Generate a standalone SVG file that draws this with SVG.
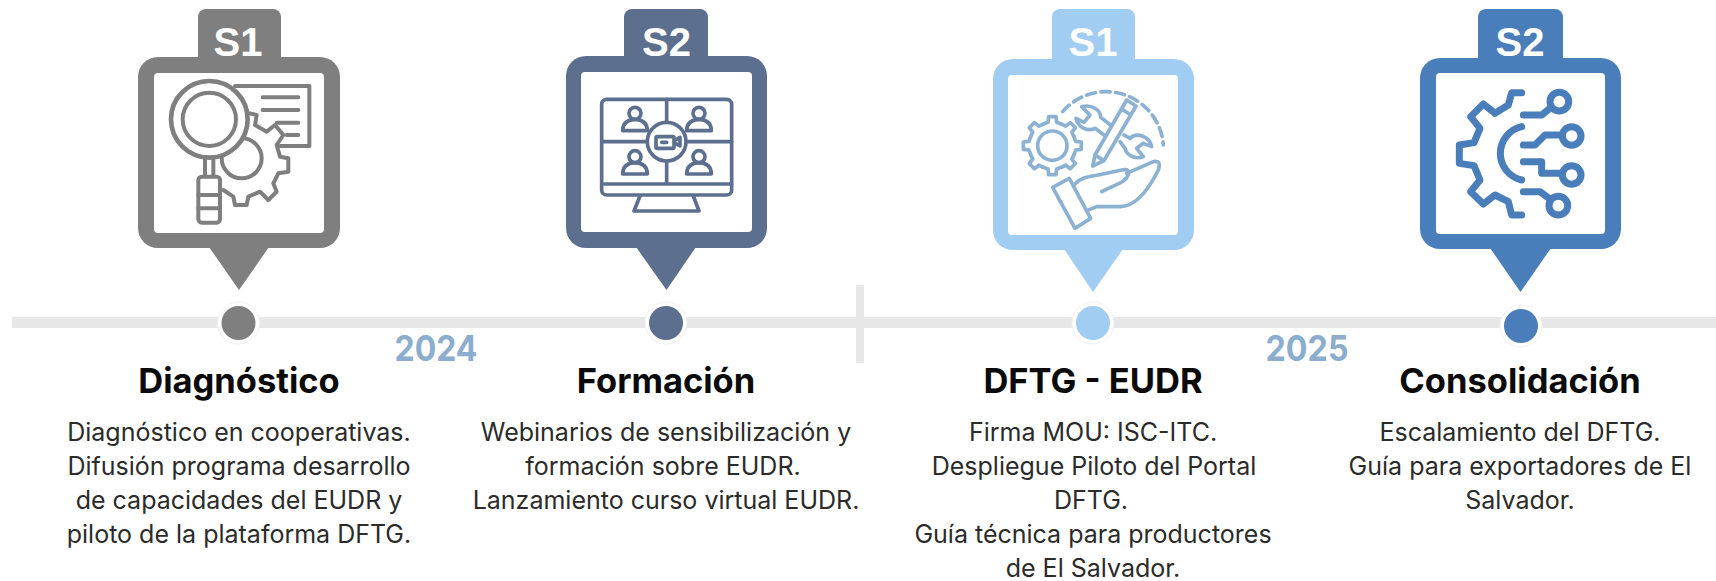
<svg xmlns="http://www.w3.org/2000/svg" xmlns:xlink="http://www.w3.org/1999/xlink" width="1716" height="581" viewBox="0 0 1716 581">
<style>
.tab{font:700 40px "Liberation Sans",Arial,sans-serif;fill:#fff;text-anchor:middle}
.title{font:700 34.500px Inter,"Liberation Sans",sans-serif;fill:#0a0a0a;text-anchor:middle}
.body{font:400 25px Inter,"Liberation Sans",sans-serif;fill:#2b2b2b;text-anchor:middle}
.year{font:700 36px Inter,"Liberation Sans",sans-serif;fill:#8cadcd;text-anchor:middle}
.ic{fill:none;stroke-linecap:round;stroke-linejoin:round}
.inner{fill:#fff}
.halo{fill:#fff;stroke:#f1f1f1;stroke-width:1}
</style>
<defs>
<path id="tooth" d="M-27-65-13-70-11-87H11L13-70 27-65"/>
</defs>
<rect width="1716" height="581" fill="#fff"/>
<g id="connectors" fill="#e7e7e7">
<rect x="12" y="317" width="1704" height="11"/>
<rect x="856" y="285" width="8" height="78"/>
</g>
<g id="node-diagnostico">
<g fill="#7f7f7f">
<rect x="198" y="9" width="83" height="60" rx="8"/>
<rect x="138" y="57" width="202" height="191" rx="20"/>
<path d="M209 247H269L239 290Z"/>
<circle cx="238.500" cy="323" r="21" class="halo"/>
<circle cx="238.500" cy="323" r="17"/>
</g>
<rect x="154" y="73" width="170" height="160" rx="4" class="inner"/>
<text x="238" y="56" class="tab">S1</text>
<g transform="translate(120 0) scale(.33333)" class="ic" stroke="#7f7f7f" stroke-width="12">
<path d="M345 258H568V438H480M428 292H535M428 330H535M470 368H535M500 405H535"/>
<path d="M390 340 410 345 405 375 440 395 465 375 490 405 470 435 480 470 505 475 505 515 475 520 460 550 470 575 445 600 420 575 385 590 380 615 345 615 340 590 310 570"/>
<circle cx="365" cy="475" r="60"/>
<circle cx="268" cy="358" r="115" fill="#fff" stroke-width="14"/>
<circle cx="268" cy="358" r="80"/>
<path d="M255 475V530M280 475V530"/>
<rect x="235" y="530" width="65" height="138" rx="10" fill="#fff"/>
<path d="M235 585H300M235 625H300"/>
</g>
<text x="239" y="393" class="title">Diagnóstico</text>
<text x="239" y="441" class="body">Diagnóstico en cooperativas.</text>
<text x="239" y="475" class="body">Difusión programa desarrollo</text>
<text x="239" y="509" class="body">de capacidades del EUDR y</text>
<text x="239" y="543" class="body">piloto de la plataforma DFTG.</text>
<text x="436" y="361" class="year" textLength="83" lengthAdjust="spacingAndGlyphs">2024</text>
</g>
<g id="node-formacion">
<g fill="#5c6f8f">
<rect x="624" y="9" width="84" height="60" rx="8"/>
<rect x="566" y="56" width="201" height="192" rx="20"/>
<path d="M636 247H696L666.500 290Z"/>
<circle cx="666" cy="323" r="21" class="halo"/>
<circle cx="666" cy="323" r="17"/>
</g>
<rect x="581" y="72" width="171" height="160" rx="4" class="inner"/>
<text x="666.500" y="56" class="tab">S2</text>
<g transform="translate(550 0) scale(.33333)" class="ic" stroke="#5c6f8f" stroke-width="11">
<rect x="155" y="298" width="390" height="287" rx="15"/>
<path d="M155 552H545M350 298V552M155 425H545M270 588 252 633H447L430 588"/>
<circle cx="350" cy="425" r="58" fill="#fff"/>
<rect x="318" y="410" width="54" height="35" rx="4"/>
<path d="M376 420 390 412V438L376 430M335 427H350"/>
<g id="p"><circle cx="255" cy="340" r="18"/><path d="M218 392Q218 360 255 358 292 360 292 392Z"/></g>
<use xlink:href="#p" x="192"/><use xlink:href="#p" y="130"/><use xlink:href="#p" x="192" y="130"/>
</g>
<text x="666" y="393" class="title">Formación</text>
<text x="666" y="441" class="body">Webinarios de sensibilización y</text>
<text x="663" y="475" class="body">formación sobre EUDR.</text>
<text x="666" y="509" class="body">Lanzamiento curso virtual EUDR.</text>
</g>
<g id="node-dftg">
<g fill="#a1cdf2">
<rect x="1052" y="9" width="83" height="60" rx="8"/>
<rect x="993" y="59" width="201" height="191" rx="20"/>
<path d="M1064 249H1123L1093 292Z"/>
<circle cx="1093" cy="323" r="21" class="halo"/>
<circle cx="1093" cy="323" r="17"/>
</g>
<rect x="1008" y="75" width="170" height="160" rx="4" class="inner"/>
<text x="1093" y="56" class="tab">S1</text>
<g transform="translate(980 0) scale(.33333)" class="ic" stroke="#8cb1d2" stroke-width="11">
<path d="M248 335A172 172 0 0 1 550 435" stroke-dasharray="28 16"/>
<circle cx="217" cy="437" r="44"/>
<g transform="translate(217 437)">
<use xlink:href="#tooth"/><use xlink:href="#tooth" transform="rotate(45)"/><use xlink:href="#tooth" transform="rotate(90)"/><use xlink:href="#tooth" transform="rotate(135)"/><use xlink:href="#tooth" transform="rotate(180)"/><use xlink:href="#tooth" transform="rotate(225)"/><use xlink:href="#tooth" transform="rotate(270)"/><use xlink:href="#tooth" transform="rotate(315)"/>
</g>
<path d="M305 320C335 312 362 330 362 352L392 375M288 355C295 385 325 395 345 385L372 405M305 320 330 345 312 367 288 355"/>
<path d="M432 405 450 415C470 395 510 410 515 440L490 430 470 445 490 470C465 480 440 465 435 445L420 425"/>
<path d="M338 498 345 465 440 300 468 318 372 482ZM425 327 452 345M345 465 372 482" fill="#fff"/>
<path d="M218 562 268 535 332 655 285 685Z"/>
<path d="M285 552C305 530 330 530 355 525L425 510Q452 505 445 525C435 550 400 555 365 575M440 520 520 485Q545 480 535 510C510 560 470 620 420 620H350L320 632"/>
</g>
<text x="1093" y="393" class="title">DFTG - EUDR</text>
<text x="1093" y="441" class="body">Firma MOU: ISC-ITC.</text>
<text x="1094" y="475" class="body">Despliegue Piloto del Portal</text>
<text x="1091" y="509" class="body">DFTG.</text>
<text x="1093" y="543" class="body">Guía técnica para productores</text>
<text x="1093" y="577" class="body">de El Salvador.</text>
<text x="1307" y="361" class="year" textLength="83" lengthAdjust="spacingAndGlyphs">2025</text>
</g>
<g id="node-consolidacion">
<g fill="#4a7ebb">
<rect x="1478" y="9" width="85" height="60" rx="8"/>
<rect x="1420" y="58" width="201" height="191" rx="20"/>
<path d="M1490 248H1551L1520.500 292Z"/>
<circle cx="1521" cy="326" r="21" class="halo"/>
<circle cx="1521" cy="326" r="17"/>
</g>
<rect x="1436" y="73" width="169" height="161" rx="4" class="inner"/>
<text x="1520" y="56" class="tab">S2</text>
<g transform="translate(1400 0) scale(.33333)" class="ic" stroke="#4a7ebb" stroke-width="21">
<path d="M365 278H335L325 315 285 340 250 312 212 350 240 385 222 428 178 435V490L222 497 240 540 212 575 250 612 285 585 325 605 335 645H365"/>
<path d="M365 380A82 82 0 0 0 365 540"/>
<path d="M370 345H425L450 325M370 435H405L435 405H487M370 485H425V520H487M370 575H420L447 595"/>
<circle cx="478" cy="305" r="28"/><circle cx="515" cy="408" r="28"/><circle cx="515" cy="525" r="28"/><circle cx="475" cy="617" r="28"/>
</g>
<text x="1520" y="393" class="title">Consolidación</text>
<text x="1520" y="441" class="body">Escalamiento del DFTG.</text>
<text x="1520" y="475" class="body">Guía para exportadores de El</text>
<text x="1520" y="509" class="body">Salvador.</text>
</g>
</svg>
